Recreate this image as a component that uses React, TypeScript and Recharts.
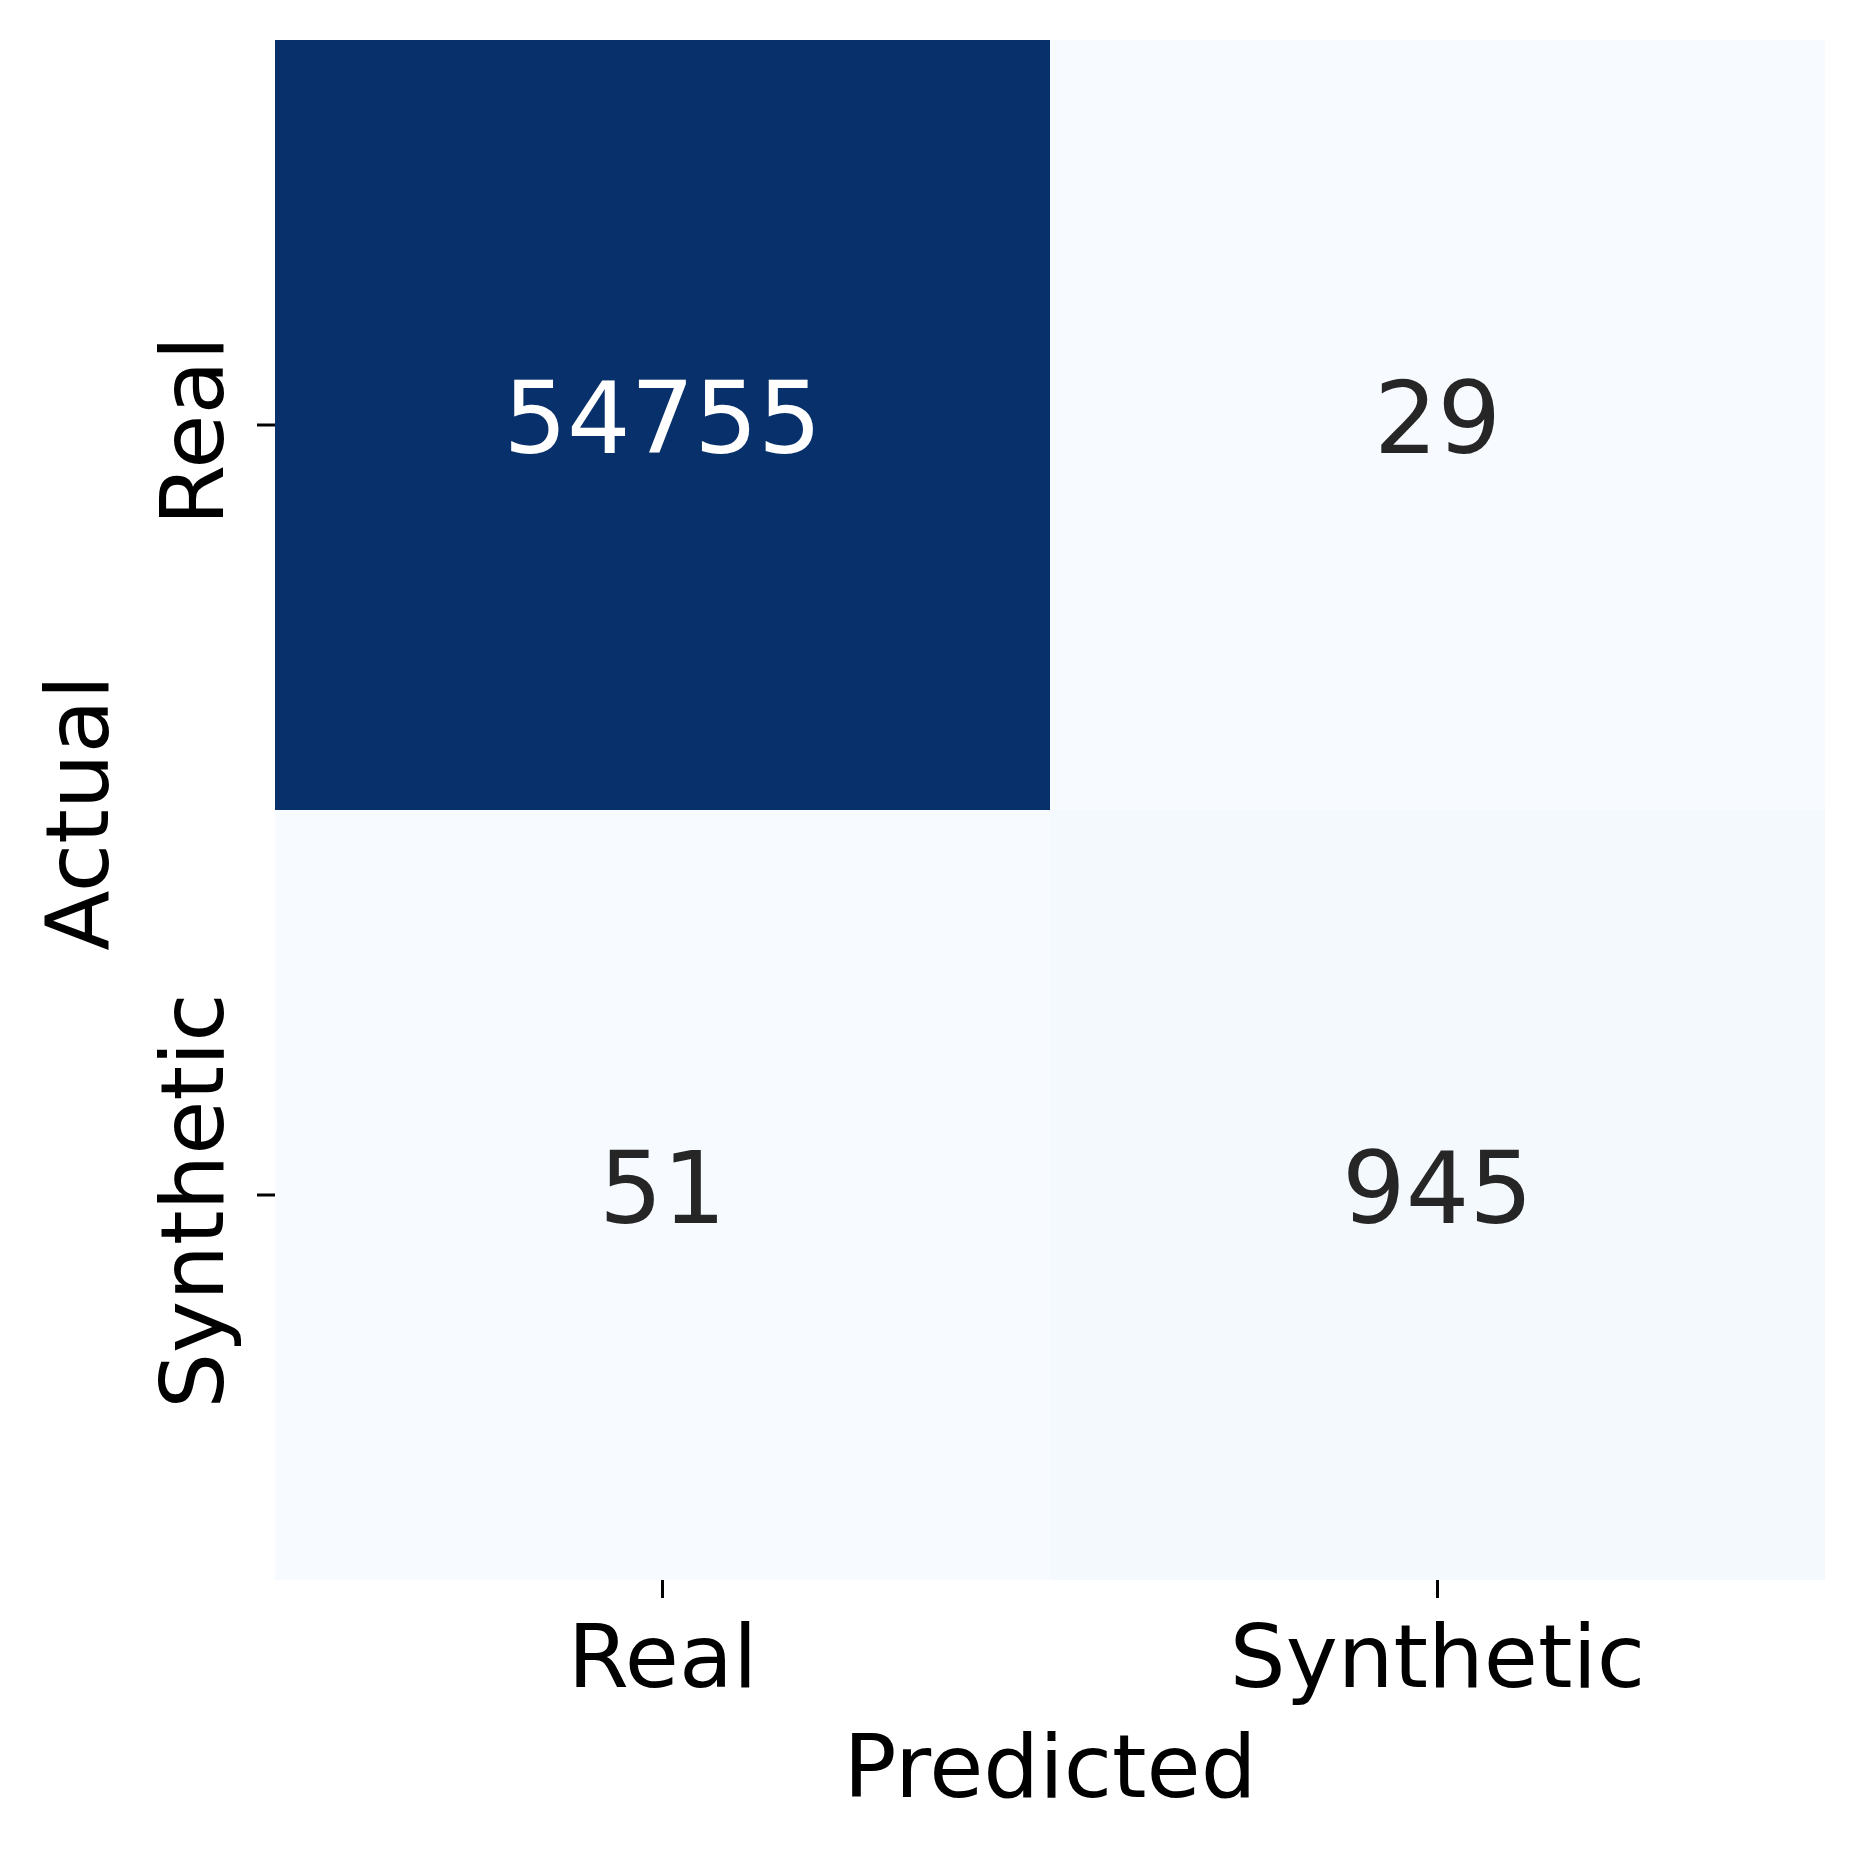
import { BarChart, Bar, XAxis, YAxis, Cell, LabelList, Label } from "recharts";

const FONT = "DejaVu Sans, sans-serif";
const LABEL_SIZE = 88;

// confusion matrix: rows = actual, columns = predicted
const predictedLabels = ["Real", "Synthetic"];
const actualLabels = ["Real", "Synthetic"];
const actualRealCounts = [54755, 29];
const actualSyntheticCounts = [51, 945];

// matplotlib "Blues" colormap stops
const BLUES = ["#f7fbff", "#deebf7", "#c6dbef", "#9ecae1", "#6baed6", "#4292c6", "#2171b5", "#08519c", "#08306b"];

const allCounts = [...actualRealCounts, ...actualSyntheticCounts];
const vmin = Math.min(...allCounts);
const vmax = Math.max(...allCounts);

function hexToRgb(hex: string) {
  const n = parseInt(hex.slice(1), 16);
  return [(n >> 16) & 255, (n >> 8) & 255, n & 255];
}

function bluesRgb(v: number) {
  const t = Math.max(0, Math.min(1, (v - vmin) / (vmax - vmin)));
  const pos = t * (BLUES.length - 1);
  const i = Math.min(BLUES.length - 2, Math.floor(pos));
  const f = pos - i;
  const a = hexToRgb(BLUES[i]);
  const b = hexToRgb(BLUES[i + 1]);
  return a.map((c, k) => Math.round(c + (b[k] - c) * f));
}

function cellColor(v: number) {
  const [r, g, b] = bluesRgb(v);
  return `rgb(${r},${g},${b})`;
}

function textColor(v: number) {
  const lin = bluesRgb(v).map((c) => {
    const s = c / 255;
    return s <= 0.03928 ? s / 12.92 : Math.pow((s + 0.055) / 1.055, 2.4);
  });
  const lum = 0.2126 * lin[0] + 0.7152 * lin[1] + 0.0722 * lin[2];
  return lum > 0.408 ? "#262626" : "#ffffff";
}

// each cell occupies one unit of the stacked bar
const data = predictedLabels.map((p, i) => ({
  predicted: p,
  rowSynthetic: 1,
  rowReal: 1,
  countReal: actualRealCounts[i],
  countSynthetic: actualSyntheticCounts[i],
}));

const yTickLabel = (v: number) => (v > 1 ? actualLabels[0] : actualLabels[1]);

function XTick(props: any) {
  const { x, y, payload } = props;
  return (
    <text x={x} y={y + 87} textAnchor="middle" fontFamily={FONT} fontSize={LABEL_SIZE} fill="#000">
      {payload.value}
    </text>
  );
}

function YTick(props: any) {
  const { x, y, payload } = props;
  const tx = x - 32;
  const ty = y + 6;
  return (
    <text x={tx} y={ty} textAnchor="middle" transform={`rotate(-90, ${tx}, ${ty})`} fontFamily={FONT} fontSize={LABEL_SIZE} fill="#000">
      {yTickLabel(payload.value)}
    </text>
  );
}

function CountLabel(props: any) {
  const { x, y, width, height, value } = props;
  return (
    <text
      x={x + width / 2}
      y={y + height / 2 + 28}
      textAnchor="middle"
      fontFamily={FONT}
      fontSize={100}
      fill={textColor(value)}
    >
      {value}
    </text>
  );
}

export default function App() {
  return (
    <div style={{ position: "absolute", left: 0, top: 0, width: 1865, height: 1855, background: "#fff" }}>
      <BarChart
        width={1865}
        height={1855}
        data={data}
        margin={{ top: 40, right: 40, bottom: 35, left: 0 }}
        barCategoryGap={0}
        barGap={0}
      >
        <XAxis
          dataKey="predicted"
          type="category"
          height={240}
          axisLine={false}
          tickSize={18}
          tickMargin={2}
          tickLine={{ stroke: "#000", strokeWidth: 3 }}
          tick={<XTick />}
        >
          <Label
            content={(p: any) => {
              const vb = p.viewBox || { x: 275, y: 1580, width: 1550 };
              return (
                <text x={vb.x + vb.width / 2} y={vb.y + 217} textAnchor="middle" fontFamily={FONT} fontSize={LABEL_SIZE} fill="#000">
                  Predicted
                </text>
              );
            }}
          />
        </XAxis>
        <YAxis
          type="number"
          domain={[0, 2]}
          ticks={[0.5, 1.5]}
          width={275}
          axisLine={false}
          tickSize={18}
          tickMargin={2}
          tickLine={{ stroke: "#000", strokeWidth: 3 }}
          tick={<YTick />}
        >
          <Label
            content={(p: any) => {
              const vb = p.viewBox || { x: 0, y: 40, width: 275, height: 1540 };
              const lx = vb.x + 108;
              const ly = vb.y + vb.height / 2 + 3;
              return (
                <text x={lx} y={ly} textAnchor="middle" transform={`rotate(-90, ${lx}, ${ly})`} fontFamily={FONT} fontSize={LABEL_SIZE} fill="#000">
                  Actual
                </text>
              );
            }}
          />
        </YAxis>
        <Bar dataKey="rowSynthetic" stackId="m" isAnimationActive={false}>
          {data.map((d) => (
            <Cell key={d.predicted} fill={cellColor(d.countSynthetic)} />
          ))}
          <LabelList dataKey="countSynthetic" content={<CountLabel />} />
        </Bar>
        <Bar dataKey="rowReal" stackId="m" isAnimationActive={false}>
          {data.map((d) => (
            <Cell key={d.predicted} fill={cellColor(d.countReal)} />
          ))}
          <LabelList dataKey="countReal" content={<CountLabel />} />
        </Bar>
      </BarChart>
    </div>
  );
}
